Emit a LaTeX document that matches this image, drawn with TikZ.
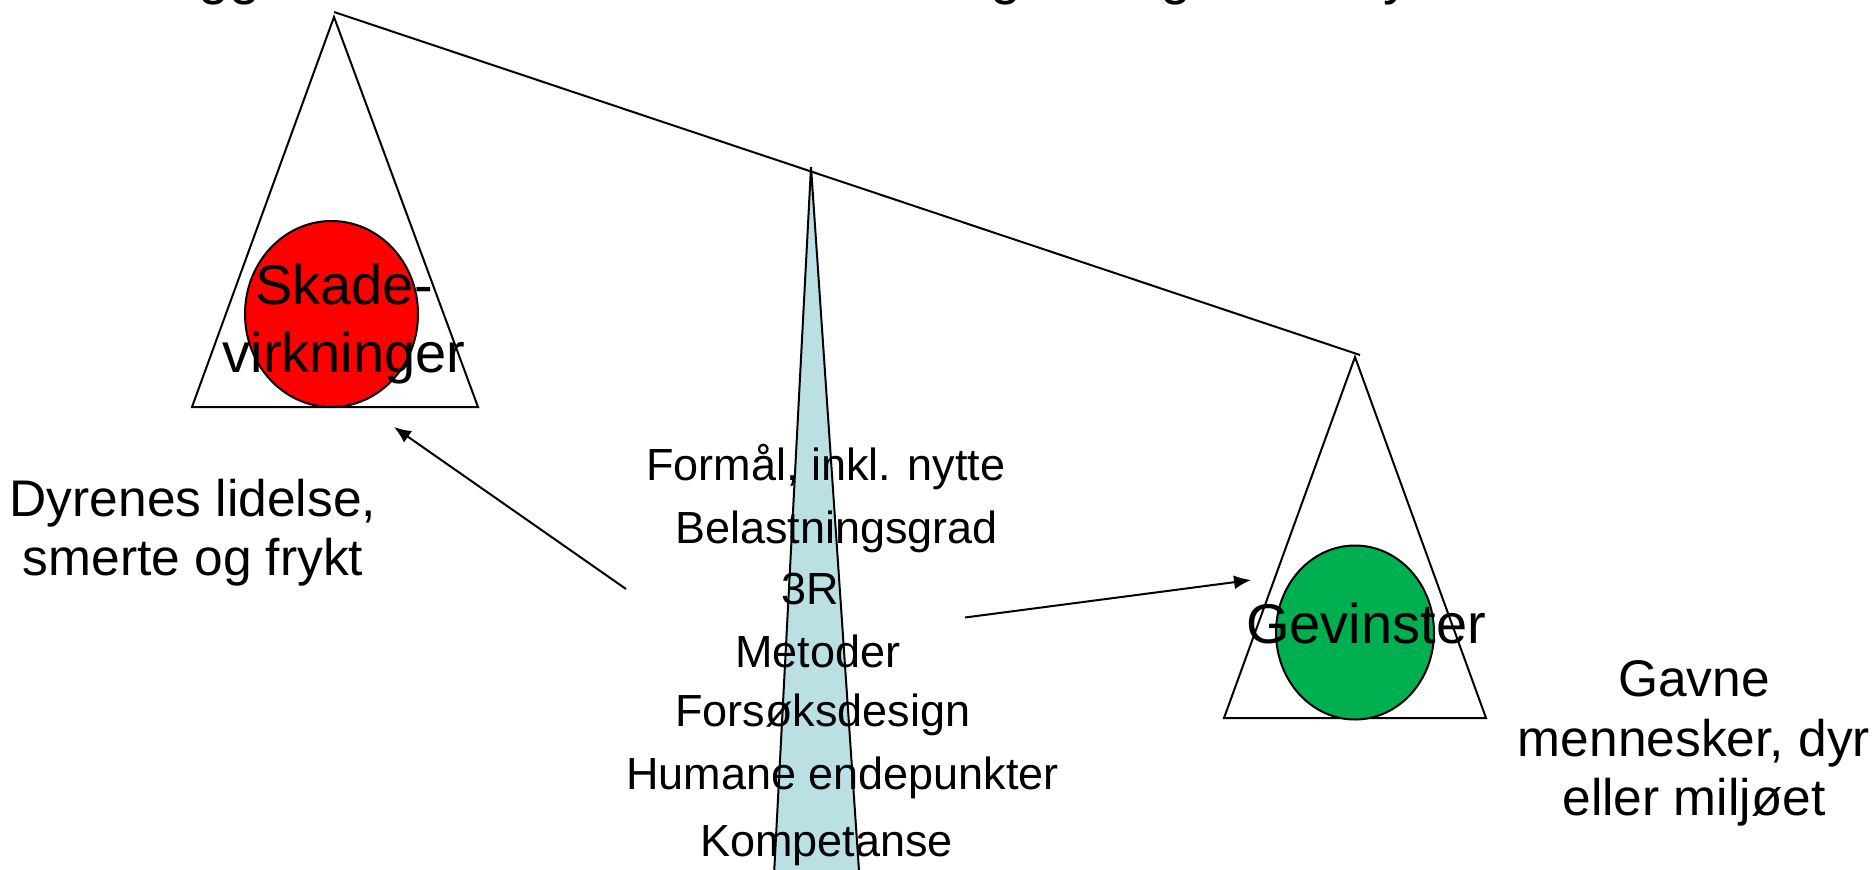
\documentclass[tikz,border=0pt]{standalone}
\usepackage{fontspec}
\setmainfont{Liberation Sans}
\usetikzlibrary{arrows.meta}
\definecolor{wedgeblue}{RGB}{187,224,227}
\definecolor{harmred}{RGB}{255,0,0}
\definecolor{gaingreen}{RGB}{0,176,80}
\tikzset{
  outline/.style={draw=black,line width=2pt,line join=miter},
  bigtxt/.style={inner sep=0pt,font=\fontsize{56}{66}\selectfont},
  listtxt/.style={inner sep=0pt,anchor=base west,font=\fontsize{45}{54}\selectfont},
  sidetxt/.style={inner sep=0pt,anchor=base,font=\fontsize{51.5}{60}\selectfont},
  titletxt/.style={inner sep=0pt,anchor=base west,font=\fontsize{56}{66}\selectfont},
  pointer/.style={draw=black,line width=2pt,-{Latex[length=17pt,width=14pt]}}
}
\begin{document}
\begin{tikzpicture}[x=1pt,y=-1pt]
\useasboundingbox (0,0) rectangle (1872,870);
% cut-off title (only descenders visible)
\node[titletxt] (t1) at (198,-6) {gg};
\node[titletxt] (t2) at (990,-6) {g};
\node[titletxt] (t3) at (1160,-6) {g};
\node[titletxt] (t4) at (1383,-6) {y};
% fulcrum wedge
\path[outline,fill=wedgeblue] (811,167) -- (772.7,900) -- (861.0,900) -- cycle;
% beam
\coordinate (beamL) at (334,12);
\coordinate (beamR) at (1360,355);
\draw[line width=2pt] (beamL) -- (beamR);
% left pan
\draw[outline] (334,17) -- (192,407) -- (478,407) -- cycle;
\path[outline,fill=harmred] (331.5,314) ellipse [x radius=86.5, y radius=93];
\node[bigtxt,anchor=base] (skade) at (344,304) {Skade-};
\node[bigtxt,anchor=base] (virk) at (344,372) {virkninger};
% right pan
\draw[outline] (1355,357) -- (1224,718) -- (1486,718) -- cycle;
\path[outline,fill=gaingreen] (1355,632.5) ellipse [x radius=79, y radius=87];
\node[bigtxt,anchor=base] (gev) at (1366,643) {Gevinster};
% list
\node[listtxt] (l1) at (646,480) {Formål, inkl. nytte};
\node[listtxt] (l2) at (675,543) {Belastningsgrad};
\node[listtxt] (l3) at (781,604) {3R};
\node[listtxt] (l4) at (735,667) {Metoder};
\node[listtxt] (l5) at (675,726) {Forsøksdesign};
\node[listtxt] (l6) at (626,789) {Humane endepunkter};
\node[listtxt] (l7) at (700,856) {Kompetanse};
% side labels
\node[sidetxt] (d1) at (193,516) {Dyrenes lidelse,};
\node[sidetxt] (d2) at (193,575) {smerte og frykt};
\node[sidetxt] (g1) at (1694,696) {Gavne};
\node[sidetxt] (g2) at (1694,756) {mennesker, dyr};
\node[sidetxt] (g3) at (1694,815) {eller miljøet};
% arrows
\coordinate (aLs) at (626,589);
\coordinate (aLe) at (394,427);
\coordinate (aRs) at (965,617.5);
\coordinate (aRe) at (1251,580);
\draw[pointer] (aLs) -- (aLe);
\draw[pointer] (aRs) -- (aRe);
\end{tikzpicture}
\end{document}
